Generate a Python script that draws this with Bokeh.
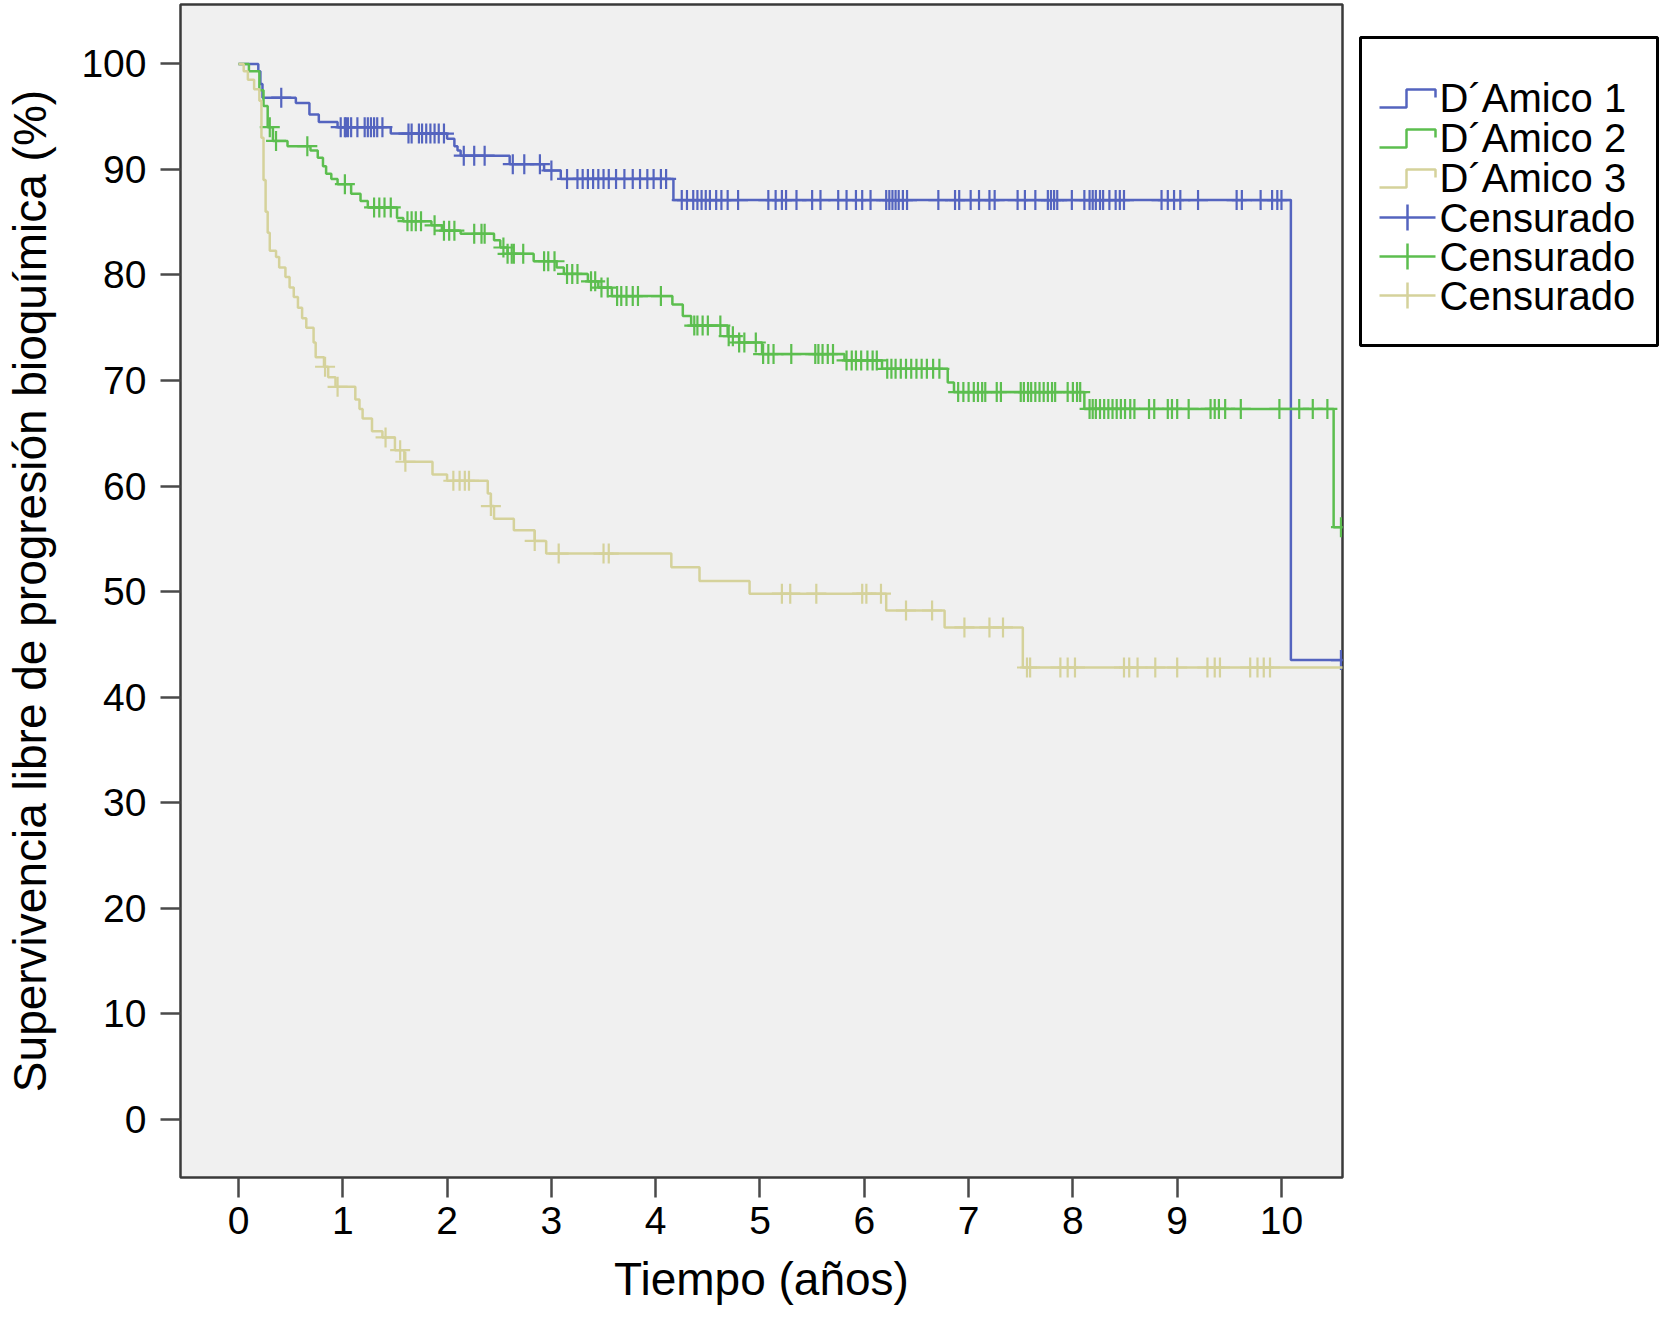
import numpy as np
from bokeh.plotting import figure
from bokeh.layouts import row
from bokeh.models import Range1d, FixedTicker
from bokeh.core.properties import value
from bokeh.embed import file_html
from bokeh.resources import INLINE

# D´Amico 1: event times (years) and survival (%) after each event, censored times
t_ev_1 = [0.19, 0.21, 0.23, 0.55, 0.68, 0.77, 0.95, 1.46, 2.00, 2.07, 2.10, 2.13,
          2.60, 2.93, 3.09, 4.17, 10.09]
s_ev_1 = [99.3, 98.1, 96.8, 96.3, 95.2, 94.5, 94.0, 93.4, 92.9, 92.2, 91.8, 91.3,
          90.5, 89.9, 89.1, 87.1, 43.5]
t_cens_1 = [0.41, 0.98, 1.02, 1.03, 1.05, 1.08, 1.14, 1.21, 1.24, 1.27, 1.30, 1.33, 1.38,
            1.63, 1.66, 1.73, 1.76, 1.80, 1.84, 1.88, 1.92, 1.97, 2.16, 2.26, 2.36,
            2.63, 2.74, 2.89, 3.00, 3.15, 3.25, 3.30, 3.35, 3.40, 3.45, 3.50, 3.55,
            3.62, 3.70, 3.78, 3.85, 3.92, 3.98, 4.05, 4.10, 4.25, 4.30, 4.36, 4.40,
            4.44, 4.48, 4.52, 4.58, 4.63, 4.69, 4.79, 5.08, 5.15, 5.21, 5.25, 5.35,
            5.50, 5.58, 5.75, 5.83, 5.92, 5.98, 6.06, 6.21, 6.24, 6.27, 6.30, 6.33,
            6.37, 6.41, 6.71, 6.87, 6.91, 7.02, 7.10, 7.20, 7.25, 7.47, 7.54, 7.64,
            7.76, 7.79, 7.82, 7.85, 7.99, 8.11, 8.16, 8.19, 8.22, 8.26, 8.29, 8.35,
            8.41, 8.45, 8.49, 8.85, 8.91, 8.97, 9.03, 9.20, 9.57, 9.62, 9.80, 9.91,
            9.96, 10.00, 10.57]

# D´Amico 2
t_ev_2 = [0.10, 0.20, 0.24, 0.28, 0.33, 0.47, 0.69, 0.76, 0.81, 0.84, 0.89, 0.95,
          1.08, 1.17, 1.24, 1.52, 1.58, 1.85, 1.95, 2.13, 2.45, 2.51, 2.58, 2.83,
          3.05, 3.12, 3.35, 3.45, 3.58, 4.16, 4.26, 4.34, 4.69, 4.80, 5.02, 5.81,
          6.17, 6.80, 6.86, 8.11, 10.50]
s_ev_2 = [99.3, 97.5, 96.0, 94.0, 92.7, 92.2, 91.8, 91.1, 90.3, 89.6, 89.1, 88.6,
          87.7, 87.0, 86.4, 85.4, 85.1, 84.7, 84.2, 83.9, 83.3, 82.6, 82.0, 81.3,
          80.7, 80.1, 79.4, 78.8, 78.0, 77.2, 76.1, 75.2, 74.2, 73.6, 72.5, 71.9,
          71.1, 69.8, 68.9, 67.3, 56.1]
t_cens_2 = [0.30, 0.36, 0.66, 1.02, 1.30, 1.35, 1.40, 1.46, 1.62, 1.66, 1.70, 1.75,
            1.88, 1.97, 2.02, 2.07, 2.26, 2.33, 2.36, 2.54, 2.58, 2.62, 2.64, 2.73,
            2.93, 2.97, 3.03, 3.15, 3.20, 3.25, 3.38, 3.42, 3.48, 3.54, 3.63, 3.67,
            3.72, 3.78, 3.83, 4.05, 4.37, 4.40, 4.45, 4.50, 4.62, 4.70, 4.74, 4.80,
            4.85, 4.96, 5.03, 5.08, 5.13, 5.30, 5.53, 5.56, 5.60, 5.65, 5.70, 5.83,
            5.88, 5.92, 5.97, 6.03, 6.08, 6.12, 6.22, 6.26, 6.30, 6.35, 6.40, 6.45,
            6.50, 6.55, 6.60, 6.66, 6.72, 6.90, 6.95, 7.00, 7.05, 7.09, 7.13, 7.16,
            7.27, 7.31, 7.50, 7.53, 7.57, 7.60, 7.64, 7.68, 7.72, 7.76, 7.80, 7.83,
            7.95, 8.00, 8.04, 8.07, 8.16, 8.19, 8.22, 8.26, 8.30, 8.34, 8.38, 8.42,
            8.46, 8.50, 8.55, 8.59, 8.73, 8.78, 8.91, 8.95, 9.00, 9.11, 9.32, 9.36,
            9.40, 9.46, 9.61, 9.98, 10.17, 10.30, 10.44, 10.57]

# D´Amico 3
t_ev_3 = [0.05, 0.09, 0.15, 0.20, 0.22, 0.24, 0.26, 0.28, 0.30, 0.36, 0.39, 0.45,
          0.49, 0.53, 0.57, 0.61, 0.65, 0.72, 0.74, 0.82, 0.86, 0.93, 1.12, 1.16,
          1.19, 1.28, 1.38, 1.50, 1.59, 1.86, 2.00, 2.39, 2.42, 2.45, 2.64, 2.84,
          2.95, 4.15, 4.42, 4.90, 6.21, 6.77, 7.52]
s_ev_3 = [99.3, 98.5, 97.6, 96.5, 93.0, 89.0, 86.0, 84.0, 82.3, 81.7, 80.7, 79.8,
          78.8, 77.9, 76.9, 75.9, 75.0, 73.6, 72.2, 71.3, 70.3, 69.4, 68.2, 67.3,
          66.4, 65.2, 64.6, 63.4, 62.3, 61.1, 60.5, 59.3, 58.1, 56.9, 55.8, 54.8,
          53.6, 52.3, 51.0, 49.8, 48.2, 46.6, 42.8]
t_cens_3 = [0.83, 0.95, 1.41, 1.55, 1.60, 2.06, 2.12, 2.17, 2.21, 2.42, 2.84, 3.07,
            3.50, 3.55, 5.21, 5.29, 5.54, 5.98, 6.02, 6.16, 6.40, 6.65, 6.96, 7.20,
            7.33, 7.56, 7.59, 7.88, 7.95, 8.02, 8.49, 8.54, 8.62, 8.79, 9.00, 9.29,
            9.36, 9.41, 9.70, 9.77, 9.83, 9.89]

t_fin = 10.6
grupos = ["D´Amico 1", "D´Amico 2", "D´Amico 3"]
etiqueta_censura = "Censurado"
colores = ["#5464bf", "#5cbe4f", "#d5d29b"]
y_ticks = [0, 10, 20, 30, 40, 50, 60, 70, 80, 90, 100]
x_ticks = [0, 1, 2, 3, 4, 5, 6, 7, 8, 9, 10]

ALTO = 1307
FUENTE = "Liberation Sans"

p = figure(width=1344, height=ALTO, output_backend="svg", toolbar_location=None,
           x_range=Range1d(-0.556, 10.585), y_range=Range1d(-5.53, 105.63),
           min_border_left=180, min_border_right=2, min_border_top=4,
           min_border_bottom=127, frame_align=False)
p.background_fill_color = "#f0f0f0"
p.border_fill_color = "white"
p.outline_line_color = "#3a3a3a"
p.outline_line_width = 2.5
p.grid.visible = False

for tev, sev, tc, col in [(t_ev_1, s_ev_1, t_cens_1, colores[0]),
                          (t_ev_2, s_ev_2, t_cens_2, colores[1]),
                          (t_ev_3, s_ev_3, t_cens_3, colores[2])]:
    xs = [0.0] + tev + [t_fin]
    ys = [100.0] + sev + [sev[-1]]
    p.step(xs, ys, mode="after", line_color=col, line_width=2.5)
    niveles = np.array([100.0] + sev)
    cy = niveles[np.searchsorted(np.array(tev), np.array(tc), side="right")]
    p.scatter(tc, cy, marker="cross", size=20, line_color=col, line_width=2.2)

for ax in (p.xaxis[0], p.yaxis[0]):
    ax.axis_line_color = None
    ax.major_tick_line_color = "#4a4a4a"
    ax.major_tick_line_width = 2.5
    ax.major_tick_out = 20
    ax.major_tick_in = 0
    ax.minor_tick_line_color = None
    ax.major_label_text_font = FUENTE
    ax.major_label_text_font_size = "39px"
    ax.major_label_text_color = "black"
    ax.axis_label_text_font = FUENTE
    ax.axis_label_text_font_size = "46px"
    ax.axis_label_text_font_style = "normal"
    ax.axis_label_text_color = "black"

p.xaxis.ticker = FixedTicker(ticks=x_ticks)
p.yaxis.ticker = FixedTicker(ticks=y_ticks)
p.xaxis.axis_label = "Tiempo (años)"
p.yaxis.axis_label = "Supervivencia libre de progresión bioquímica (%)"
p.xaxis.major_label_standoff = 9
p.yaxis.major_label_standoff = 14
p.xaxis.axis_label_standoff = 16
p.yaxis.axis_label_standoff = 22

# legend panel drawn as its own small figure in screen-like units
ANCHO_LEY = 315
ley = figure(width=ANCHO_LEY, height=ALTO, output_backend="svg", toolbar_location=None,
             x_range=Range1d(0, ANCHO_LEY), y_range=Range1d(ALTO, 0),
             x_axis_location=None, y_axis_location=None,
             min_border=0, min_border_left=0, min_border_right=0,
             min_border_top=0, min_border_bottom=0, frame_align=False)
ley.outline_line_color = None
ley.background_fill_color = "white"
ley.border_fill_color = "white"
ley.grid.visible = False

ley.quad(left=16, right=313, top=37, bottom=345, fill_color="white",
         line_color="black", line_width=3)

filas = [97, 137, 177, 217, 256, 295]
etiquetas = grupos + [etiqueta_censura] * 3
for i, (yc, lab) in enumerate(zip(filas, etiquetas)):
    col = colores[i % 3]
    if i < 3:
        ley.line([35, 62, 62, 91, 91], [yc + 10, yc + 10, yc - 8, yc - 8, yc],
                 line_color=col, line_width=2.5)
    else:
        ley.line([35, 91], [yc, yc], line_color=col, line_width=2.5)
        ley.line([63, 63], [yc - 13, yc + 13], line_color=col, line_width=2.5)
    ley.text(x=[95], y=[yc], text=[lab], text_font=value(FUENTE),
             text_font_size="40px", text_baseline="middle", text_align="left",
             text_color="black")

layout = row(p, ley, spacing=0)
open("out.html", "w").write(file_html(layout, INLINE))
